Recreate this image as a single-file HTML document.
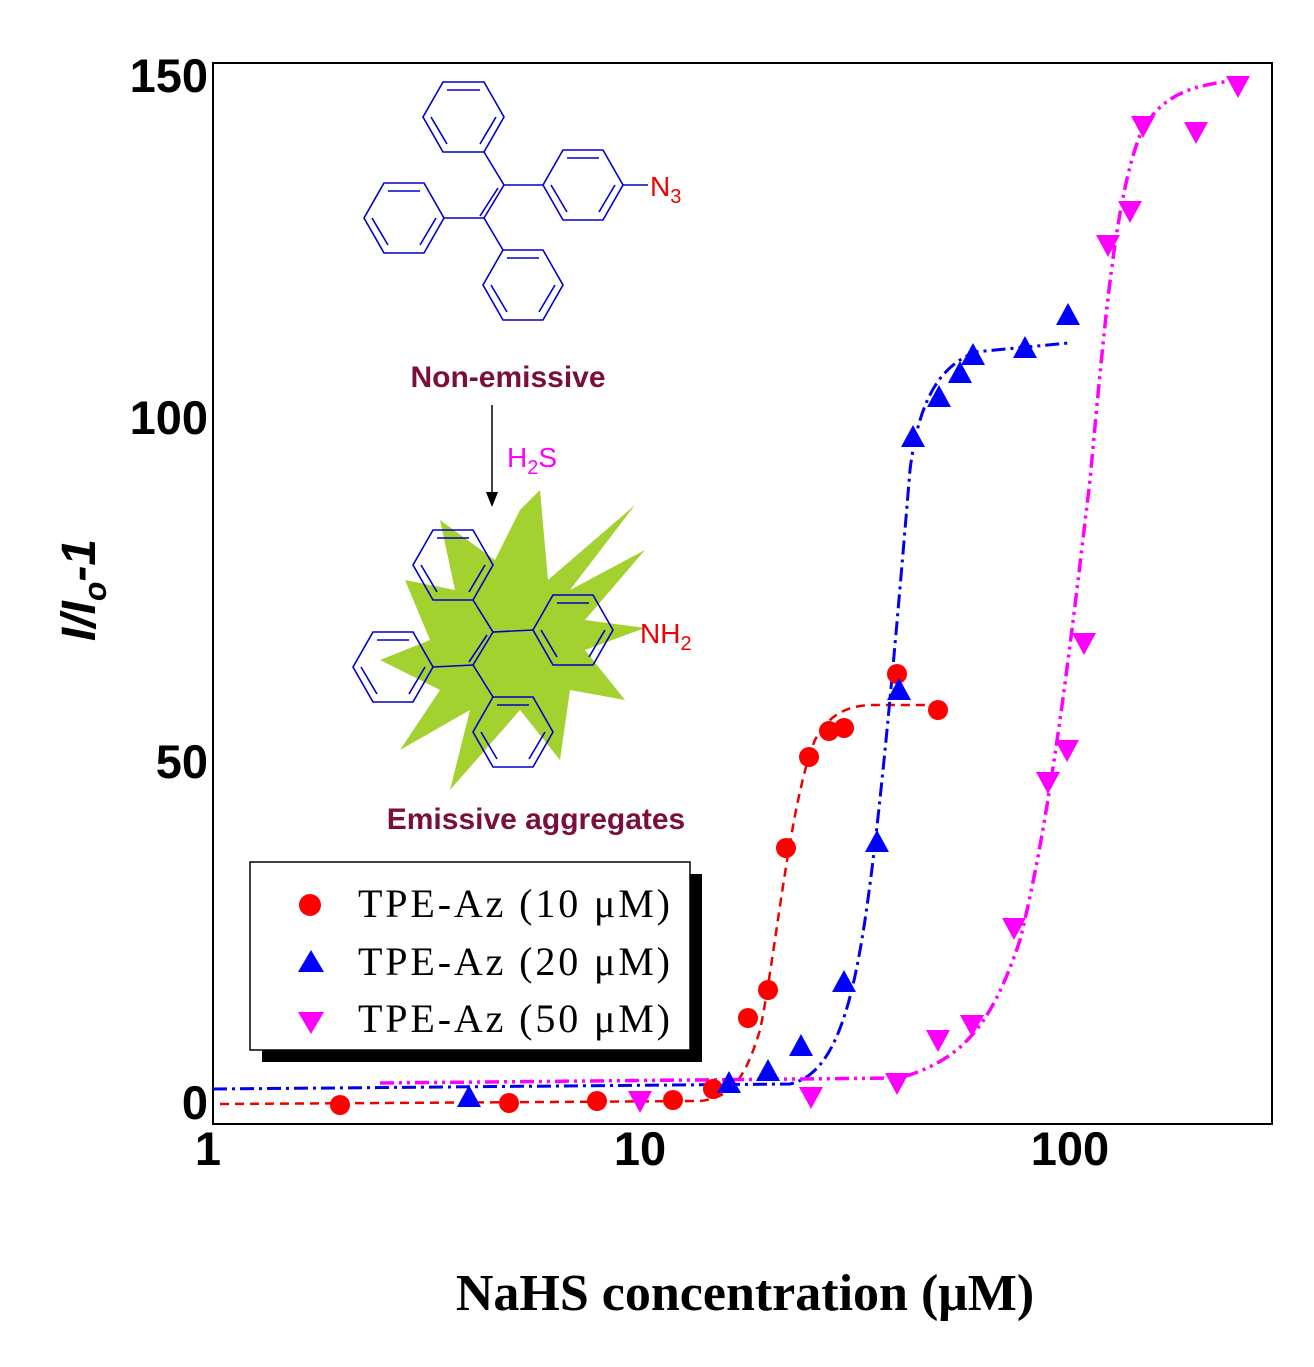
<!DOCTYPE html>
<html><head><meta charset="utf-8"><style>body{margin:0;background:#fff}</style></head><body>
<svg width="1314" height="1362" viewBox="0 0 1314 1362" xmlns="http://www.w3.org/2000/svg">
<rect x="213" y="63" width="1059" height="1061" fill="none" stroke="#000" stroke-width="2"/>
<g font-family="Liberation Sans, sans-serif" font-weight="bold" font-size="47" fill="#000">
<text x="208" y="92" text-anchor="end">150</text>
<text x="208" y="434" text-anchor="end">100</text>
<text x="208" y="778" text-anchor="end">50</text>
<text x="208" y="1119" text-anchor="end">0</text>
<text x="208" y="1165" text-anchor="middle">1</text>
<text x="640" y="1165" text-anchor="middle">10</text>
<text x="1070" y="1165" text-anchor="middle">100</text>
<text transform="translate(95,590) rotate(-90)" text-anchor="middle" font-style="italic" font-size="48">I/I<tspan font-size="32" dy="11">o</tspan><tspan dy="-11">-1</tspan></text>
</g>
<text x="745" y="1310" text-anchor="middle" font-family="Liberation Serif, serif" font-weight="bold" font-size="52">NaHS concentration (μM)</text>
<path d="M220,1104 L700,1101 C730,1098 745,1080 760,1030 C775,960 790,800 815,740 C830,712 850,706 870,705 L940,705" fill="none" stroke="#e00" stroke-width="2.5" stroke-dasharray="9,6"/>
<path d="M213,1089 L790,1084 C830,1075 850,1020 865,920 C880,820 895,650 910,470 C920,390 945,365 975,352 L1068,343" fill="none" stroke="#00e" stroke-width="3" stroke-dasharray="14,5,3,5"/>
<path d="M380,1083 L900,1078 C960,1060 990,1030 1020,940 C1050,820 1070,650 1090,480 C1105,320 1115,200 1140,135 C1160,95 1190,85 1240,80" fill="none" stroke="#f0f" stroke-width="3.5" stroke-dasharray="14,5,3,5,3,5"/>
<g fill="#f00">
<circle cx="340" cy="1105" r="10"/><circle cx="509" cy="1103" r="10"/><circle cx="597" cy="1101" r="10"/><circle cx="673" cy="1100" r="10"/><circle cx="713" cy="1089" r="10"/><circle cx="748" cy="1018" r="10"/><circle cx="768" cy="990" r="10"/><circle cx="786" cy="848" r="10"/><circle cx="809" cy="757" r="10"/><circle cx="829" cy="731" r="10"/><circle cx="844" cy="728" r="10"/><circle cx="897" cy="674" r="10"/><circle cx="938" cy="710" r="10"/>
</g>
<g fill="#00f">
<path d="M0,-12 L12,10 L-12,10Z" transform="translate(469,1097)"/>
<path d="M0,-12 L12,10 L-12,10Z" transform="translate(729,1083)"/><path d="M0,-12 L12,10 L-12,10Z" transform="translate(768,1071)"/><path d="M0,-12 L12,10 L-12,10Z" transform="translate(801,1046)"/><path d="M0,-12 L12,10 L-12,10Z" transform="translate(844,982)"/><path d="M0,-12 L12,10 L-12,10Z" transform="translate(877,842)"/><path d="M0,-12 L12,10 L-12,10Z" transform="translate(899,690)"/><path d="M0,-12 L12,10 L-12,10Z" transform="translate(913,437)"/><path d="M0,-12 L12,10 L-12,10Z" transform="translate(939,397)"/><path d="M0,-12 L12,10 L-12,10Z" transform="translate(960,373)"/><path d="M0,-12 L12,10 L-12,10Z" transform="translate(973,355)"/><path d="M0,-12 L12,10 L-12,10Z" transform="translate(1025,348)"/><path d="M0,-12 L12,10 L-12,10Z" transform="translate(1068,315)"/>
</g>
<g fill="#f0f">
<path d="M0,12 L12,-10 L-12,-10Z" transform="translate(640,1101)"/><path d="M0,12 L12,-10 L-12,-10Z" transform="translate(811,1097)"/><path d="M0,12 L12,-10 L-12,-10Z" transform="translate(897,1083)"/><path d="M0,12 L12,-10 L-12,-10Z" transform="translate(938,1040)"/><path d="M0,12 L12,-10 L-12,-10Z" transform="translate(972,1025)"/><path d="M0,12 L12,-10 L-12,-10Z" transform="translate(1014,928)"/><path d="M0,12 L12,-10 L-12,-10Z" transform="translate(1048,782)"/><path d="M0,12 L12,-10 L-12,-10Z" transform="translate(1067,750)"/><path d="M0,12 L12,-10 L-12,-10Z" transform="translate(1084,643)"/><path d="M0,12 L12,-10 L-12,-10Z" transform="translate(1108,245)"/><path d="M0,12 L12,-10 L-12,-10Z" transform="translate(1130,211)"/><path d="M0,12 L12,-10 L-12,-10Z" transform="translate(1143,126)"/><path d="M0,12 L12,-10 L-12,-10Z" transform="translate(1196,132)"/><path d="M0,12 L12,-10 L-12,-10Z" transform="translate(1238,86)"/>
</g>
<rect x="262" y="874" width="440" height="188" fill="#000"/>
<rect x="250" y="862" width="440" height="188" fill="#fff" stroke="#000" stroke-width="1.5"/>
<circle cx="310" cy="905" r="11" fill="#f00"/>
<path d="M0,-12 L13,10 L-13,10Z" transform="translate(311,962)" fill="#00f"/>
<path d="M0,12 L13,-10 L-13,-10Z" transform="translate(311,1022)" fill="#f0f"/>
<g font-family="Liberation Serif, serif" font-size="40" fill="#000" textLength="312">
<text x="358" y="917" textLength="312">TPE-Az (10 μM)</text><text x="358" y="975" textLength="312">TPE-Az (20 μM)</text><text x="358" y="1032" textLength="312">TPE-Az (50 μM)</text>
</g>
<g fill="none" stroke="#00c" stroke-width="1.6">
<polygon points="443,82 484,82 504,117 484,152 443,152 423,117"/>
<path d="M447,90 L480,90 M496,117 L480,144 M431,117 L447,144"/>
<polygon points="384,183 424,183 444,218 424,253 384,253 364,218"/>
<path d="M388,191 L420,191 M436,218 L420,245 M372,218 L388,245"/>
<polygon points="563,150 603,150 623,185 603,220 563,220 543,185"/>
<path d="M567,158 L599,158 M615,185 L599,212 M551,185 L567,212"/>
<polygon points="503,250 543,250 563,285 543,320 503,320 483,285"/>
<path d="M507,258 L539,258 M555,285 L539,312 M491,285 L507,312"/>
<path d="M484,152 L504,185 L543,185 M504,185 L484,218 L444,218 M484,218 L503,250 M498,188 L480,216"/>
<path d="M623,185 L648,185"/>
</g>
<text x="650" y="196" font-family="Liberation Sans, sans-serif" font-size="28" fill="#e00">N<tspan font-size="20" dy="7">3</tspan></text>
<text x="508" y="387" text-anchor="middle" font-family="Liberation Sans, sans-serif" font-weight="bold" font-size="30" fill="#7a0f3f">Non-emissive</text>
<line x1="492" y1="405" x2="492" y2="500" stroke="#000" stroke-width="1.5"/>
<path d="M486,492 L492,507 L498,492Z" fill="#000"/>
<text x="507" y="467" font-family="Liberation Sans, sans-serif" font-size="28" fill="#f0f">H<tspan font-size="20" dy="7">2</tspan><tspan dy="-7">S</tspan></text>
<polygon points="540,490 548,580 635,505 570,590 645,550 585,620 645,628 585,650 625,700 570,690 560,760 520,710 450,790 470,710 400,750 440,690 380,660 430,640 405,580 455,590 440,520 495,560 520,510" fill="#a3d12f"/>
<g fill="none" stroke="#00c" stroke-width="1.6">
<polygon points="433,530 473,530 493,565 473,600 433,600 413,565"/>
<path d="M437,538 L469,538 M485,565 L469,592 M421,565 L437,592"/>
<polygon points="373,632 413,632 433,667 413,702 373,702 353,667"/>
<path d="M377,640 L409,640 M425,667 L409,694 M361,667 L377,694"/>
<polygon points="553,595 593,595 613,630 593,665 553,665 533,630"/>
<path d="M557,603 L589,603 M605,630 L589,657 M541,630 L557,657"/>
<polygon points="493,697 533,697 553,732 533,767 493,767 473,732"/>
<path d="M497,705 L529,705 M545,732 L529,759 M481,732 L497,759"/>
<path d="M473,600 L493,632 L533,630 M493,632 L473,665 L433,667 M473,665 L493,697 M487,635 L469,662"/>
</g>
<text x="640" y="643" font-family="Liberation Sans, sans-serif" font-size="28" fill="#e00">NH<tspan font-size="20" dy="7">2</tspan></text>
<text x="536" y="829" text-anchor="middle" font-family="Liberation Sans, sans-serif" font-weight="bold" font-size="30" fill="#7a0f3f">Emissive aggregates</text>
</svg>
</body></html>
